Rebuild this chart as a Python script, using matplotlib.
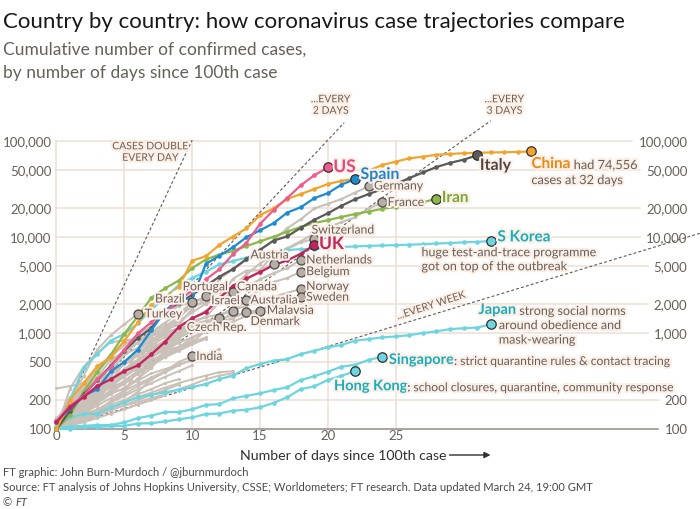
import matplotlib.pyplot as plt
import matplotlib.patheffects as pe
from matplotlib.text import OffsetFrom
import numpy as np

plt.rcParams['font.family'] = ['Lato', 'DejaVu Sans']

# cumulative confirmed cases, one value per day since the 100th case
us = [120, 175, 220, 330, 440, 670, 990, 1300, 1630, 2183, 2770, 3613, 4596, 6600,
      8700, 13677, 19100, 25489, 34500, 44000, 53000]
spain = [120, 165, 222, 259, 400, 500, 673, 1073, 1695, 2277, 2277, 5232, 6391, 7798,
         9942, 11748, 13910, 17963, 20410, 25374, 28603, 35136, 40000]
italy = [100, 155, 229, 322, 453, 655, 888, 1128, 1694, 2036, 2502, 3089, 3858, 4636,
         5883, 7375, 9172, 10149, 12462, 15113, 17660, 21157, 24747, 27980, 31506,
         35713, 41035, 47021, 53578, 59138, 63927, 71000]
china = [100, 200, 300, 450, 560, 830, 1290, 1950, np.nan, 3000, 5670, 6300, 8260,
         10100, 12300, 16900, 19900, 24900, 28000, 31600, 35600, 38500, 40200, 49000,
         56200, 61000, 66000, 68600, 72000, 73300, 74700, 75600, 76000, 76500, 77000,
         78000]
iran = [100, 139, 245, 388, 593, 978, 1501, 2336, 2922, 3513, 4747, 5823, 6566, 7161,
        8042, 9000, 10075, 11364, 12729, 13938, 14991, 16169, 17361, 18407, 19644,
        20610, 21638, 23049, 25000]
s_korea = [104, 204, 433, 602, 833, 977, 1261, 1766, 2337, 3150, 3736, 4335, 5186,
           5621, 6088, 6593, 7041, 7314, 7478, 7513, 7755, 7869, 7979, 8086, 8162,
           8236, 8320, 8413, 8565, 8652, 8799, 8897, 9100]
uk = [118, 170, 215, 280, 330, 400, 460, 600, 810, 1150, 1420, 1650, 2300, 3100, 3700,
      4300, 5100, 5700, 6700, 8250]
japan = [105, 132, 144, 144, 170, 189, 214, 228, 241, 256, 274, 293, 331, 360, 430, 475,
         515, 535, 604, 653, 710, 750, 830, 865, 900, 920, 950, 1000, 1040, 1100, 1120,
         1140, 1230]
singapore = [102, 106, 108, 110, 110, 117, 130, 138, 150, 150, 160, 178, 182, 208, 222,
             235, 255, 272, 324, 354, 395, 446, 467, 524, 566]
hong_kong = [100, 100, 105, 105, 107, 108, 114, 115, 120, 126, 132, 143, 145, 155, 159,
             168, 187, 214, 260, 278, 324, 359, 398]

# labelled grey countries
germany = [130, 159, 196, 262, 482, 670, 799, 1040, 1176, 1457, 1908, 2078, 3675, 4585,
           5795, 7272, 9257, 12327, 15320, 19848, 22213, 24873, 29056, 33700]
france = [100, 130, 191, 204, 285, 377, 653, 949, 1126, 1209, 1784, 2281, 2281, 3661,
          4469, 4499, 6633, 7652, 9043, 10871, 12612, 14282, 16018, 19856, 23000]
switzerland = [114, 214, 268, 337, 374, 491, 652, 652, 1139, 1359, 2200, 2200, 2700,
               3028, 4075, 5294, 6575, 7474, 8795, 9550]
netherlands = [128, 188, 265, 321, 382, 503, 503, 804, 959, 1135, 1413, 1705, 2051,
               2460, 2994, 3631, 4204, 4749, 5760]
belgium = [109, 169, 200, 239, 267, 314, 314, 559, 689, 886, 1058, 1243, 1486, 1795,
           2257, 2815, 3401, 3743, 4340]
austria = [104, 131, 182, 246, 302, 504, 655, 860, 1018, 1332, 1646, 2013, 2388, 2814,
           3582, 4474, 5230]
norway = [113, 147, 176, 205, 400, 598, 702, 996, 1090, 1221, 1333, 1463, 1550, 1746,
          1914, 2118, 2385, 2621, 2870]
sweden = [101, 161, 203, 248, 355, 500, 599, 814, 961, 1022, 1103, 1190, 1279, 1439,
          1639, 1763, 1934, 2046, 2350]
portugal = [112, 169, 245, 331, 448, 642, 785, 1020, 1280, 1600, 2060, 2410]
canada = [108, 117, 193, 198, 252, 415, 478, 657, 800, 943, 1277, 1469, 2088, 2690]
brazil = [121, 200, 234, 346, 529, 640, 970, 1178, 1546, 1924, 2090]
israel = [100, 126, 161, 193, 250, 255, 337, 433, 677, 705, 883, 1071, 1238, 1710]
australia = [107, 128, 128, 200, 250, 297, 377, 452, 568, 681, 791, 1071, 1549, 1682,
             2200]
malaysia = [117, 129, 149, 149, 197, 238, 428, 566, 673, 790, 900, 1030, 1183, 1306,
            1518, 1710]
denmark = [100, 264, 444, 617, 804, 836, 875, 933, 1024, 1115, 1225, 1337, 1420, 1514,
           1640]
czech = [116, 141, 189, 253, 298, 396, 464, 694, 833, 995, 1120, 1236, 1430]
turkey = [100, 191, 359, 670, 947, 1236, 1580]
india = [102, 113, 119, 142, 156, 194, 244, 330, 396, 499, 570]

# other countries, unlabelled
other_countries = [
    [100, 130, 170, 230, 300, 390, 480, 600, 720, 850],
    [100, 120, 150, 190, 240, 300, 380, 470, 560, 650, 760, 870],
    [100, 115, 140, 160, 190, 220, 260, 300, 350, 400, 460],
    [100, 140, 200, 260, 330, 420, 520, 640, 760],
    [100, 110, 125, 140, 160, 175, 190, 210, 230, 260, 290, 330, 360, 380],
    [265, 280, 300],
    [100, 150, 210, 290, 380, 480, 600, 750, 900, 1050, 1200],
    [100, 125, 155, 200, 250, 320, 400, 490, 590, 700, 800, 900],
    [100, 105, 130, 150, 180, 200, 230, 260, 300, 330],
    [100, 160, 260, 400, 560, 750, 950],
    [100, 118, 135, 160, 190, 230, 280, 330, 390, 460, 530, 600, 680],
    [100, 112, 128, 145, 165, 190, 215, 240, 270, 300, 330, 360, 390, 400],
    [100, 135, 180, 240, 320, 420, 530, 650, 790, 950, 1100, 1250],
    [100, 128, 165, 215, 280, 360, 450, 560, 680, 810],
    [100, 150, 225, 330, 460, 620, 800, 1000],
    [100, 110, 122, 138, 156, 178, 200, 226, 255, 290],
    [100, 140, 190, 250, 320, 400, 500, 620, 760, 900, 1050, 1180, 1300, 1400],
    [100, 120, 145, 175, 210, 250, 295, 345, 400],
    [100, 170, 280, 420, 600, 800],
    [100, 132, 172, 220, 280, 350, 430, 520, 620, 720, 820],
    [100, 108, 118, 130, 145, 160, 180, 200, 225],
    [100, 145, 205, 280, 370, 470, 580, 700],
    [100, 118, 150, 185, 230, 270, 320, 380, 420, 470, 520, 560, 600],
]

y_ticks = [100, 200, 500, 1000, 2000, 5000, 10000, 20000, 50000, 100000]
# the right-hand 500 label is hidden behind the Singapore note in the original
right_ticks = [100, 200, 1000, 2000, 5000, 10000, 20000, 50000, 100000]
x_ticks = [0, 5, 10, 15, 20, 25]
# doubling time in days, and the day each guide line stops
double_days = [1, 2, 3, 7]
double_end = [10, 21.2, 32.0, 47.4]

GRID = '#ecdfd3'
TXT = '#66605c'
DARK = '#33302e'
HALO = '#fcefe6'
GREY_LINE = '#c9c0b8'
GREY_DOT = '#b7aea7'
halo = [pe.withStroke(linewidth=3, foreground=HALO)]

fig = plt.figure(figsize=(7, 5.1), dpi=100)
fig.patch.set_facecolor('white')
ax = fig.add_axes([0.0710, 0.1493, 0.9111, 0.6287])
ax.set_yscale('log')
ax.set_xlim(-0.5, 46.5)
ax.set_ylim(10 ** 1.96, 10 ** 5.3)
ax.axis('off')

# y tick labels on both sides
right_labels = {}
for v in y_ticks:
    lab = f'{v:,}'
    ax.annotate(lab, (0, v), xytext=(-3.5, 0), textcoords='offset points',
                ha='right', va='center', fontsize=9.5, color=TXT)
    if v in right_ticks:
        right_labels[v] = ax.text(46.5, v, lab, ha='right', va='center',
                                  fontsize=9.5, color=TXT)
for d in x_ticks:
    ax.annotate(str(d), (d, 100), xytext=(0, 0), textcoords='offset points',
                ha='center', va='top', fontsize=9.5, color=TXT)
    ax.plot([d, d], [100, 100000], color=GRID, lw=1.1, zorder=0)

fig.canvas.draw()
inv = ax.transData.inverted()
for v in y_ticks:
    t = right_labels.get(v, right_labels[200])
    x0 = t.get_window_extent().x0
    xend = inv.transform((x0 - 6, 0))[0]
    if v == 100:
        ax.plot([0, xend], [v, v], color='#9c9590', lw=1.2, zorder=1)
    else:
        ax.plot([0, xend], [v, v], color=GRID, lw=1.1, zorder=0)

# guide lines for doubling times
for p, e in zip(double_days, double_end):
    ax.plot([0, e], [100, 100 * 2 ** (e / p)], color='#5e5752', lw=0.8,
            dashes=(2.6, 2), zorder=1, clip_on=False)

ref_kw = dict(fontsize=7.5, color='#6e5f55', ha='center', va='center',
              path_effects=halo, zorder=6, linespacing=1.35)
ax.text(6.9, 75900, 'CASES DOUBLE\nEVERY DAY', **ref_kw)
ax.text(20.2, 10 ** 5.37, '...EVERY\n2 DAYS', **ref_kw)
ax.text(33.0, 10 ** 5.37, '...EVERY\n3 DAYS', **ref_kw)
ax.text(27.6, 1910, '...EVERY WEEK', rotation=18, **ref_kw)

# unlabelled grey lines
for vals in other_countries:
    d = np.arange(len(vals))
    ax.plot(d, vals, color=GREY_LINE, lw=1.4, marker='o', ms=2.2, mec='none',
            zorder=2, solid_capstyle='round')

grey_labelled = [
    (germany, 'Germany', 23.4, 34000, 'left'),
    (france, 'France', 24.4, 22900, 'left'),
    (switzerland, 'Switzerland', 18.8, 11800, 'left'),
    (austria, 'Austria', 14.3, 6500, 'left'),
    (netherlands, 'Netherlands', 18.4, 5760, 'left'),
    (belgium, 'Belgium', 18.4, 4360, 'left'),
    (norway, 'Norway', 18.4, 3060, 'left'),
    (sweden, 'Sweden', 18.4, 2360, 'left'),
    (portugal, 'Portugal', 9.3, 3030, 'left'),
    (canada, 'Canada', 13.3, 3030, 'left'),
    (brazil, 'Brazil', 9.45, 2260, 'right'),
    (israel, 'Israel', 11.4, 2170, 'left'),
    (australia, 'Australia', 14.3, 2200, 'left'),
    (turkey, 'Turkey', 6.5, 1580, 'left'),
    (malaysia, 'Malaysia', 15.5, 1720, 'left'),
    (denmark, 'Denmark', 14.3, 1320, 'left'),
    (czech, 'Czech Rep.', 9.6, 1145, 'left'),
    (india, 'India', 10.3, 570, 'left'),
]
for vals, name, tx, ty, ha in grey_labelled:
    d = np.arange(len(vals))
    ax.plot(d, vals, color=GREY_LINE, lw=1.5, marker='o', ms=2.6, mec='none',
            zorder=2.2, solid_capstyle='round')
for vals, name, tx, ty, ha in grey_labelled:
    ax.plot(len(vals) - 1, vals[-1], 'o', ms=6.5, mfc=GREY_DOT, mec='#4d4845',
            mew=0.9, zorder=4)
    ax.text(tx, ty, name, ha=ha, va='center', fontsize=8.8, color=TXT,
            path_effects=halo, zorder=5)


def draw_country(vals, color, z):
    y = np.array(vals, dtype=float)
    d = np.arange(len(y))
    ax.plot(d, y, color=color, lw=1.6, marker='o', ms=3.3, mec='none', zorder=z,
            solid_capstyle='round')
    for i in np.where(np.isnan(y))[0]:
        ax.plot([i - 1, i + 1], [y[i - 1], y[i + 1]], color=color, lw=1.4,
                dashes=(2, 1.5), zorder=z)
    ax.plot(d[-1], y[-1], 'o', ms=6.8, mfc=color, mec='#33302e', mew=0.9,
            zorder=z + 2)


CYAN = '#6dd5df'
CYAN_T = '#17afbd'
draw_country(hong_kong, CYAN, 3.0)
draw_country(singapore, CYAN, 3.0)
draw_country(japan, CYAN, 3.0)
draw_country(s_korea, CYAN, 3.1)
draw_country(iran, '#8ab84a', 3.2)
draw_country(italy, '#5b5959', 3.3)
draw_country(china, '#f3a42f', 3.4)
draw_country(spain, '#1c8bd2', 3.5)
draw_country(us, '#ee5b8e', 3.6)
draw_country(uk, '#c2235b', 3.7)


def label(x, y, s, color, size=10.5, **kw):
    return ax.text(x, y, s, ha='left', va='center', fontsize=size, color=color,
                   fontweight='bold', path_effects=halo, zorder=7, **kw)


def note_after(t, s, size=8.7):
    return ax.annotate(s, xy=(1, 0), xycoords=t, ha='left', va='bottom',
                       fontsize=size, color=TXT, path_effects=halo, zorder=7)


label(20.4, 53600, 'US', '#e8467f', size=12.5)
label(22.4, 44300, 'Spain', '#1a86cf', size=11.5)
label(31.2, 55000, 'Italy', '#4d4845', size=11.5)
t = label(35.0, 57500, 'China', '#ea8a12', size=11)
note_after(t, ' had 74,556', size=9.2)
ax.text(35.0, 39200, 'cases at 32 days', ha='left', va='center', fontsize=9.2,
        color=TXT, path_effects=halo, zorder=7)
label(28.4, 25500, 'Iran', '#77a835', size=11)
label(32.5, 9930, 'S Korea', CYAN_T, size=11)
ax.text(26.9, 5870, 'huge test-and-trace programme\ngot on top of the outbreak',
        ha='left', va='center', fontsize=9, color=TXT, path_effects=halo,
        zorder=7, linespacing=1.2)
label(19.35, 8450, 'UK', '#c0245a', size=12.5)
t = label(31.1, 1740, 'Japan', CYAN_T, size=10.5)
note_after(t, ' strong social norms', size=9)
ax.text(32.6, 1016, 'around obedience and\nmask-wearing', ha='left', va='center',
        fontsize=9, color=TXT, path_effects=halo, zorder=7, linespacing=1.25)
t = label(24.5, 524, 'Singapore', CYAN_T, size=10.5)
note_after(t, ': strict quarantine rules & contact tracing')
t = label(20.45, 279, 'Hong Kong', CYAN_T, size=10.5)
note_after(t, ': school closures, quarantine, community response')

# titles
fig.text(3 / 700, 1 - 22 / 510, 'Country by country: how coronavirus case trajectories compare',
         fontsize=16, color='#1a1817', va='center', ha='left')
fig.text(3 / 700, 1 - 50 / 510, 'Cumulative number of confirmed cases,',
         fontsize=12.5, color=TXT, va='center', ha='left')
fig.text(3 / 700, 1 - 73 / 510, 'by number of days since 100th case',
         fontsize=12.5, color=TXT, va='center', ha='left')

xl = fig.text(240 / 700, 1 - 456 / 510, 'Number of days since 100th case',
              fontsize=10.2, color=DARK, va='center', ha='left')
ax.annotate('', xy=(44, 0), xycoords=OffsetFrom(xl, (1, 0.5), unit='pixels'),
            xytext=(3, 0), textcoords=OffsetFrom(xl, (1, 0.5), unit='pixels'),
            arrowprops=dict(arrowstyle='-|>', color=DARK, lw=1, mutation_scale=9,
                            shrinkA=0, shrinkB=0))

foot_kw = dict(fontsize=8, color='#4d4845', va='center', ha='left')
fig.text(3 / 700, 1 - 473 / 510, 'FT graphic: John Burn-Murdoch / @jburnmurdoch', **foot_kw)
fig.text(3 / 700, 1 - 488 / 510,
         'Source: FT analysis of Johns Hopkins University, CSSE; Worldometers; FT research. '
         'Data updated March 24, 19:00 GMT', **foot_kw)
c = fig.text(3 / 700, 1 - 503 / 510, '© ', **foot_kw)
ax.annotate('FT', xy=(1, 0), xycoords=c, ha='left', va='bottom', fontsize=8,
            color='#4d4845', style='italic')

fig.savefig('out.png', dpi=100, facecolor='white')
